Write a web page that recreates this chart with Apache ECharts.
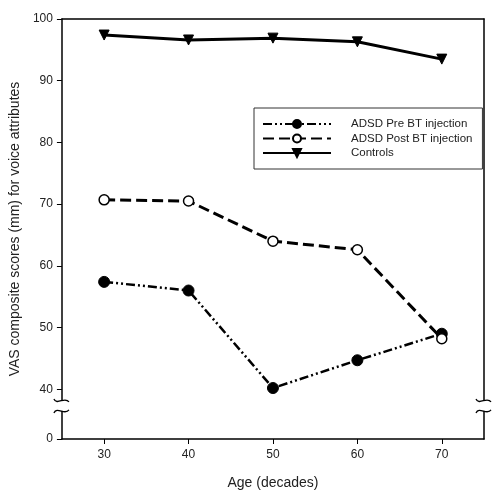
<!DOCTYPE html>
<html><head><meta charset="utf-8">
<script src="https://cdn.jsdelivr.net/npm/echarts@6/dist/echarts.min.js"></script>
<style>html,body{margin:0;padding:0;background:#fff}#c{width:500px;height:495px}</style>
</head><body><div id="c"></div>
<script>
const ages = [30, 40, 50, 60, 70];
const preBT = [57.4, 56.0, 40.2, 44.7, 49.0];
const postBT = [70.7, 70.5, 64.0, 62.6, 48.2];
const controls = [97.4, 96.6, 96.9, 96.3, 93.5];
const yTicks = [40, 50, 60, 70, 80, 90, 100];
const xTicks = [30, 40, 50, 60, 70];
const yZeroPos = 31.94; // axis position where the "0" label sits (below break)
const yBreak = 37.3;

const font = 'Liberation Sans, Arial, sans-serif';
const chart = echarts.init(document.getElementById('c'), null, {renderer: 'canvas'});
const pair = arr => ages.map((a, i) => [a, arr[i]]);
const axisLine = {show: true, lineStyle: {color: '#000', width: 1.5}};

chart.setOption({
  animation: false,
  grid: {left: 61, right: 16, top: 19, bottom: 54},
  xAxis: [{
    type: 'value', min: 25, max: 75,
    axisLine: axisLine,
    axisTick: {show: true, length: 5, lineStyle: {color: '#000', width: 1}, customValues: xTicks},
    axisLabel: {customValues: xTicks, color: '#222', fontSize: 12, fontFamily: font, margin: 10},
    splitLine: {show: false},
    name: 'Age (decades)', nameLocation: 'middle', nameGap: 37,
    nameTextStyle: {color: '#222', fontSize: 14, fontFamily: font}
  }, {
    type: 'value', min: 25, max: 75, position: 'top',
    axisLine: axisLine, axisTick: {show: false}, axisLabel: {show: false}, splitLine: {show: false}
  }],
  yAxis: [{
    type: 'value', min: yZeroPos, max: 100,
    axisLine: axisLine,
    axisTick: {show: true, length: 5, lineStyle: {color: '#000', width: 1}, customValues: [yZeroPos].concat(yTicks)},
    axisLabel: {customValues: [yZeroPos].concat(yTicks), color: '#222', fontSize: 12, fontFamily: font, margin: 9,
      formatter: v => (v < 35 ? '0' : String(Math.round(v)))},
    splitLine: {show: false},
    name: 'VAS composite scores (mm) for voice attributes', nameLocation: 'middle', nameGap: 33,
    nameTextStyle: {color: '#222', fontSize: 14, fontFamily: font}
  }, {
    type: 'value', min: yZeroPos, max: 100, position: 'right',
    axisLine: axisLine, axisTick: {show: false}, axisLabel: {show: false}, splitLine: {show: false}
  }],
  legend: {
    orient: 'vertical', left: 254, top: 108,
    padding: [10, 10, 10, 8], itemGap: 2.5, itemWidth: 68, itemHeight: 10,
    borderColor: '#333', borderWidth: 1,
    textStyle: {color: '#222', fontSize: 11.5, fontFamily: font, padding: [0, 0, 0, 15]},
    data: ['ADSD Pre BT injection', 'ADSD Post BT injection', 'Controls']
  },
  series: [{
    name: 'ADSD Pre BT injection', type: 'line', data: pair(preBT),
    symbol: 'circle', symbolSize: 11,
    lineStyle: {color: '#000', width: 2.5, type: [9, 3, 2, 3, 2, 3]},
    itemStyle: {color: '#000', borderColor: '#000', borderWidth: 1}
  }, {
    name: 'ADSD Post BT injection', type: 'line', data: pair(postBT),
    symbol: 'circle', symbolSize: 10,
    lineStyle: {color: '#000', width: 3, type: [11, 5]},
    itemStyle: {color: '#fff', borderColor: '#000', borderWidth: 1.5}
  }, {
    name: 'Controls', type: 'line', data: pair(controls),
    symbol: 'triangle', symbolSize: 10, symbolRotate: 180,
    lineStyle: {color: '#000', width: 3, type: 'solid'},
    itemStyle: {color: '#000', borderColor: '#000', borderWidth: 1}
  }]
});

function breakMark(x, y) {
  const curve = (yy, d) => ({
    type: 'bezierCurve',
    shape: {x1: x - 8, y1: yy - 2 * d, cpx1: x - 5, cpy1: yy + 5 * d, cpx2: x + 3, cpy2: yy - 5 * d, x2: x + 7, y2: yy + d},
    style: {stroke: '#000', lineWidth: 1.3, fill: null}, z: 100
  });
  return [
    {type: 'rect', shape: {x: x - 3, y: y - 5, width: 6, height: 10}, style: {fill: '#fff'}, z: 99},
    curve(y - 5, 1), curve(y + 5, -1)
  ];
}
const pL = chart.convertToPixel({gridIndex: 0}, [25, yBreak]);
const pR = chart.convertToPixel({gridIndex: 0}, [75, yBreak]);
chart.setOption({graphic: breakMark(pL[0], pL[1]).concat(breakMark(pR[0], pR[1]))});
</script></body></html>
